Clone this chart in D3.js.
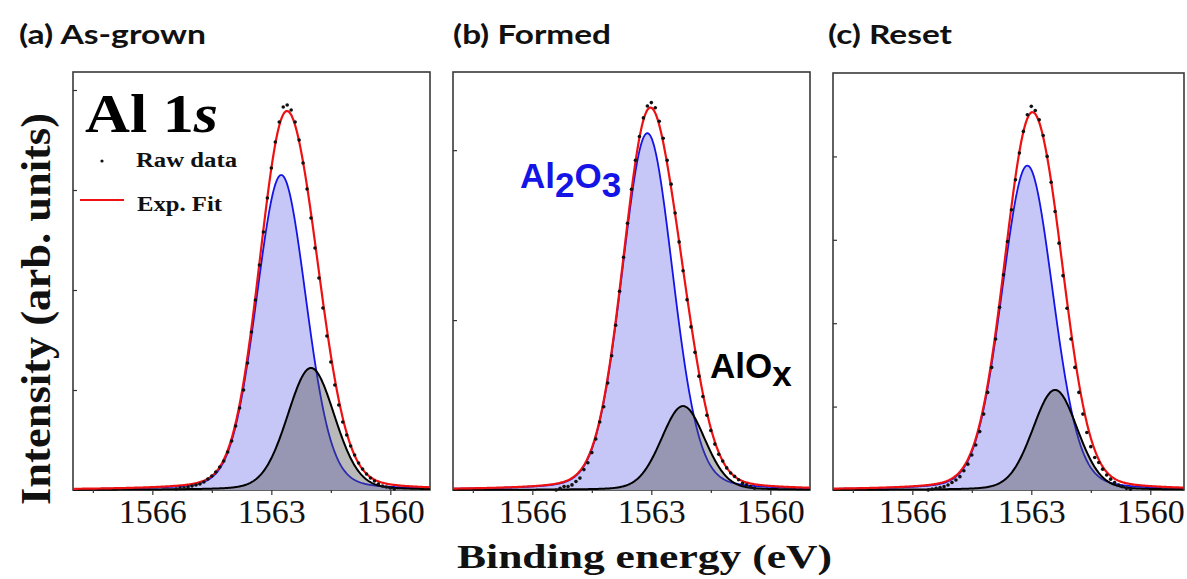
<!DOCTYPE html>
<html><head><meta charset="utf-8">
<script src="https://cdn.jsdelivr.net/npm/d3@7"></script>
<style>body{margin:0;background:#fff}</style>
</head><body><svg id="c" width="1187" height="579"></svg>
<script>
// ---------------- data ----------------
const panelTitles = ["(a) As-grown", "(b) Formed", "(c) Reset"];
const xTickValues = [1566, 1563, 1560];
const xMinorTickValues = [1567.5, 1564.5, 1561.5];
const xDomains = [[1568, 1559], [1568, 1559], [1568, 1559.15]];
const yMaxValues = [4.18, 2.46, 5.0];
const yTickValues = [[1, 2, 3, 4], [1, 2], [1, 2, 3, 4]];
// fitted components: [centre (eV), height, FWHM (eV), Lorentzian fraction]
const al2o3Fit = [[1562.75, 3.15, 1.48, 0.15], [1563.1, 2.10, 1.52, 0.15], [1563.1, 3.89, 1.53, 0.15]];
const aloxFit  = [[1562.0, 1.22, 1.41, 0.15], [1562.2, 0.494, 1.30, 0.15], [1562.4, 1.20, 1.34, 0.15]];
// raw data: first energy, step (eV), intensities
const rawStart = [1565.4, 1565.4, 1565.6];
const rawStep = 0.1;
const rawA = [0.01,0.02,0.02,0.03,0.04,0.05,0.06,0.08,0.11,0.14,0.18,0.23,0.29,0.38,0.49,0.64,0.82,1.00,1.27,1.58,1.90,2.25,2.58,2.92,3.22,3.48,3.68,3.83,3.85,3.80,3.68,3.50,3.27,3.01,2.72,2.42,2.12,1.82,1.54,1.28,1.05,0.85,0.68,0.55,0.44,0.35,0.27,0.21,0.16,0.12,0.09,0.06,0.04,0.03,0.02,0.01];
const rawB = [0.00,0.01,0.02,0.02,0.03,0.05,0.07,0.12,0.16,0.22,0.30,0.40,0.49,0.63,0.79,0.97,1.17,1.37,1.57,1.77,1.94,2.08,2.19,2.26,2.28,2.25,2.17,2.07,1.94,1.80,1.63,1.46,1.29,1.12,0.96,0.81,0.67,0.55,0.44,0.35,0.27,0.21,0.17,0.13,0.10,0.08,0.06,0.04,0.03,0.02,0.01];
const rawC = [0.00,0.01,0.02,0.03,0.04,0.06,0.09,0.12,0.16,0.23,0.31,0.42,0.54,0.70,0.91,1.17,1.47,1.81,2.19,2.58,2.98,3.36,3.72,4.04,4.30,4.50,4.60,4.55,4.44,4.25,4.00,3.69,3.34,2.96,2.57,2.18,1.81,1.47,1.17,0.91,0.69,0.52,0.39,0.33,0.25,0.18,0.13,0.09,0.06,0.04,0.02,0.01];
const rawSeries = [rawA, rawB, rawC];

// ---------------- layout ----------------
const frames = [
  {x0: 73, x1: 430, y0: 72, y1: 490},
  {x0: 453, x1: 810, y0: 72, y1: 490},
  {x0: 833, x1: 1184, y0: 73, y1: 490}
];
const titleX = [19, 453, 828];
const titleLen = [187, 158, 124];

const svg = d3.select("#c");
svg.append("rect").attr("width", 1187).attr("height", 579).attr("fill", "#fff");

function pv(e, p) {
  const [c, h, w, eta] = p;
  const u = (e - c) / w;
  return h * ((1 - eta) * Math.exp(-4 * Math.LN2 * u * u) + eta / (1 + 4 * u * u));
}

frames.forEach((f, i) => {
  const x = d3.scaleLinear().domain(xDomains[i]).range([f.x0, f.x1]);
  const y = d3.scaleLinear().domain([0, yMaxValues[i]]).range([f.y1, f.y0]);
  const g = svg.append("g");

  g.append("rect").attr("x", f.x0).attr("y", f.y0)
    .attr("width", f.x1 - f.x0).attr("height", f.y1 - f.y0)
    .attr("fill", "#fff").attr("stroke", "#3a3a3a").attr("stroke-width", 1.6);

  const clipId = "clip" + i;
  svg.append("clipPath").attr("id", clipId).append("rect")
    .attr("x", f.x0).attr("y", f.y0 - 5).attr("width", f.x1 - f.x0).attr("height", f.y1 - f.y0 + 8);

  const grid = d3.range(xDomains[i][0], xDomains[i][1] - 0.001, -0.02);
  const curve = grid.map(e => {
    const b = pv(e, al2o3Fit[i]);
    const k = pv(e, aloxFit[i]);
    return {e, b, k, s: b + k};
  });
  const cg = g.append("g").attr("clip-path", `url(#${clipId})`);

  cg.append("path").datum(curve)
    .attr("d", d3.area().x(d => x(d.e)).y0(y(0)).y1(d => y(d.b)))
    .attr("fill", "#c6c7f6");
  cg.append("path").datum(curve)
    .attr("d", d3.line().x(d => x(d.e)).y(d => y(d.b)))
    .attr("fill", "none").attr("stroke", "#1414e6").attr("stroke-width", 1.8);
  cg.append("path").datum(curve)
    .attr("d", d3.area().x(d => x(d.e)).y0(y(0)).y1(d => y(d.k)))
    .attr("fill", "rgba(80,80,80,0.4)");
  cg.append("path").datum(curve)
    .attr("d", d3.line().x(d => x(d.e)).y(d => y(d.k)))
    .attr("fill", "none").attr("stroke", "#000").attr("stroke-width", 2);
  cg.append("path").datum(curve)
    .attr("d", d3.line().x(d => x(d.e)).y(d => y(d.s)))
    .attr("fill", "none").attr("stroke", "#ee1111").attr("stroke-width", 2.2);

  const raw = rawSeries[i].map((v, j) => ({e: rawStart[i] - j * rawStep, v}));
  cg.selectAll("circle.raw").data(raw).join("circle").attr("class", "raw")
    .attr("cx", d => x(d.e)).attr("cy", d => y(d.v)).attr("r", 1.8).attr("fill", "#111");

  // axes
  const ax = g.append("g").attr("transform", `translate(0,${f.y1})`)
    .call(d3.axisBottom(x).tickValues(xTickValues).tickSize(5).tickFormat(d3.format("d")));
  ax.select(".domain").remove();
  ax.selectAll("line").attr("stroke", "#333").attr("stroke-width", 1.2);
  ax.selectAll("text").attr("y", 33).attr("dy", 0)
    .attr("font-family", "Liberation Serif, serif").attr("font-size", 34).attr("fill", "#111");
  const axm = g.append("g").attr("transform", `translate(0,${f.y1})`)
    .call(d3.axisBottom(x).tickValues(xMinorTickValues).tickSize(3).tickFormat(""));
  axm.select(".domain").remove();
  axm.selectAll("line").attr("stroke", "#333").attr("stroke-width", 1.2);
  const ay = g.append("g").attr("transform", `translate(${f.x0},0)`)
    .call(d3.axisLeft(y).tickValues(yTickValues[i]).tickSize(-4).tickFormat(""));
  ay.select(".domain").remove();
  ay.selectAll("line").attr("stroke", "#333").attr("stroke-width", 1.2);

  svg.append("text").attr("x", titleX[i]).attr("y", 44)
    .attr("font-family", "Lato, sans-serif").attr("font-weight", 700).attr("font-size", 27)
    .attr("textLength", titleLen[i]).attr("lengthAdjust", "spacingAndGlyphs")
    .attr("fill", "#111").text(panelTitles[i]);
});

// Panel (a) annotations
const al = svg.append("text").attr("x", 85).attr("y", 132)
  .attr("font-family", "Liberation Serif, serif").attr("font-weight", 700).attr("font-size", 54)
  .attr("textLength", 133).attr("lengthAdjust", "spacingAndGlyphs").attr("fill", "#000");
al.append("tspan").text("Al 1");
al.append("tspan").attr("font-style", "italic").text("s");

svg.append("circle").attr("cx", 102).attr("cy", 161).attr("r", 1.6).attr("fill", "#111");
svg.append("text").attr("x", 136).attr("y", 167)
  .attr("font-family", "Liberation Serif, serif").attr("font-weight", 700).attr("font-size", 20)
  .attr("textLength", 101).attr("lengthAdjust", "spacingAndGlyphs").attr("fill", "#111").text("Raw data");
svg.append("line").attr("x1", 80).attr("x2", 124).attr("y1", 200).attr("y2", 200)
  .attr("stroke", "#ee1111").attr("stroke-width", 2);
svg.append("text").attr("x", 137).attr("y", 211)
  .attr("font-family", "Liberation Serif, serif").attr("font-weight", 700).attr("font-size", 20)
  .attr("textLength", 85).attr("lengthAdjust", "spacingAndGlyphs").attr("fill", "#111").text("Exp. Fit");

// Panel (b) annotations
const t1 = svg.append("text").attr("x", 520).attr("y", 188)
  .attr("font-family", "Liberation Sans, Arial, sans-serif").attr("font-weight", 700)
  .attr("font-size", 35).attr("fill", "#1414e6");
t1.append("tspan").text("Al");
t1.append("tspan").attr("dy", 9).text("2");
t1.append("tspan").attr("dy", -9).text("O");
t1.append("tspan").attr("dy", 9).text("3");
const t2 = svg.append("text").attr("x", 710).attr("y", 378)
  .attr("font-family", "Liberation Sans, Arial, sans-serif").attr("font-weight", 700)
  .attr("font-size", 35).attr("fill", "#000");
t2.append("tspan").text("AlO");
t2.append("tspan").attr("dy", 8).text("x");

// axis titles
svg.append("text").attr("x", 644.5).attr("y", 568).attr("text-anchor", "middle")
  .attr("font-family", "Liberation Serif, serif").attr("font-weight", 700).attr("font-size", 33)
  .attr("textLength", 375).attr("lengthAdjust", "spacingAndGlyphs").attr("fill", "#111")
  .text("Binding energy (eV)");
svg.append("text").attr("transform", "translate(50,309) rotate(-90)").attr("text-anchor", "middle")
  .attr("font-family", "Liberation Serif, serif").attr("font-weight", 700).attr("font-size", 42)
  .attr("textLength", 392).attr("lengthAdjust", "spacingAndGlyphs").attr("fill", "#111")
  .text("Intensity (arb. units)");
</script>
</body></html>
